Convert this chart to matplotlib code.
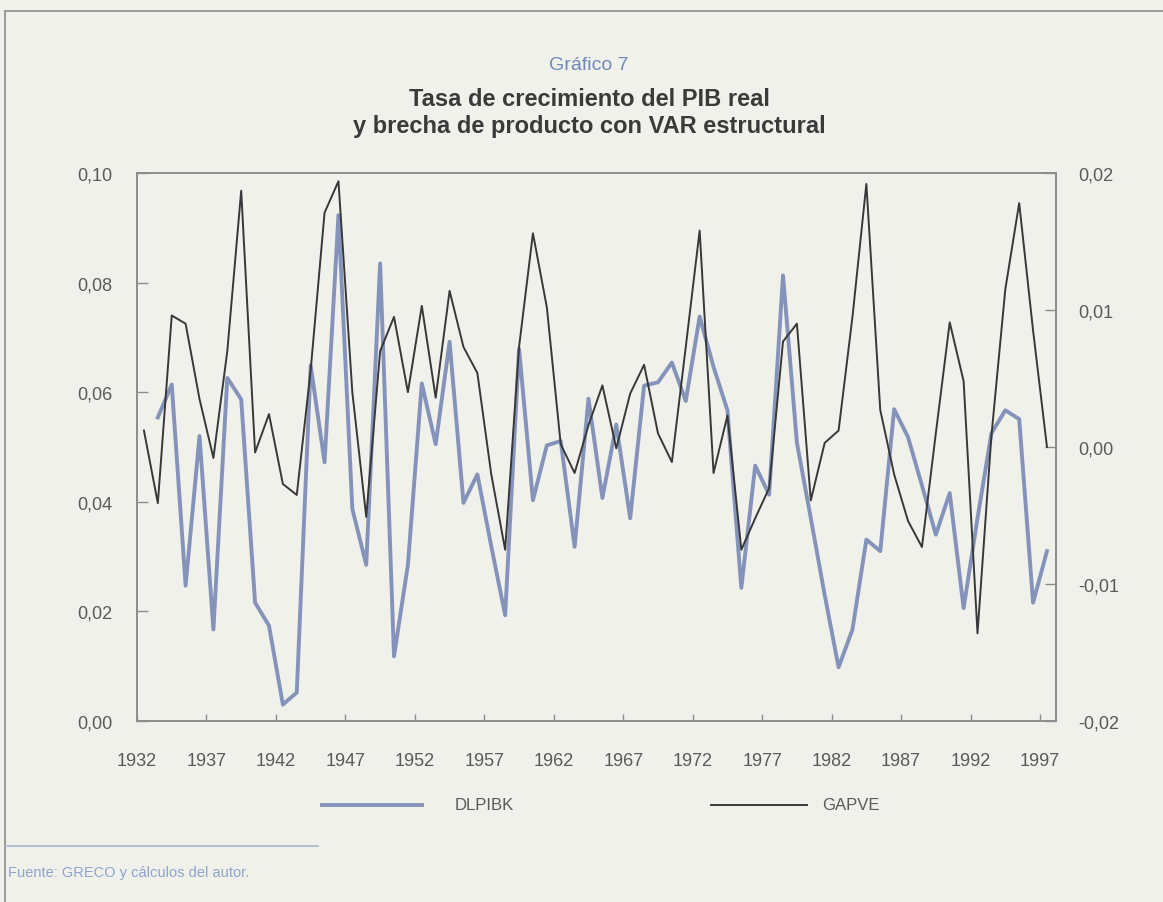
import matplotlib.pyplot as plt
from matplotlib.lines import Line2D

# GAPVE (right axis), 1932-1997
gap_years = list(range(1932, 1998))
gapve = [0.0012, -0.0041, 0.0096, 0.0090, 0.0035, -0.0008, 0.0070, 0.0187, -0.0004, 0.0024,
         -0.0027, -0.0035, 0.0056, 0.0171, 0.0194, 0.0040, -0.0051, 0.0070, 0.0095, 0.0040,
         0.0103, 0.0036, 0.0114, 0.0073, 0.0054, -0.0020, -0.0075, 0.0073, 0.0156, 0.0102,
         0.0002, -0.0019, 0.0016, 0.0045, -0.0001, 0.0039, 0.0060, 0.0010, -0.0011, 0.0073,
         0.0158, -0.0019, 0.0023, -0.0075, -0.0052, -0.0030, 0.0077, 0.0090, -0.0039, 0.0003,
         0.0012, 0.0095, 0.0192, 0.0027, -0.0020, -0.0054, -0.0073, 0.0010, 0.0091, 0.0048,
         -0.0136, 0.0008, 0.0115, 0.0178, 0.0085, 0.0000]

# DLPIBK (left axis), 1933-1997
dl_years = list(range(1933, 1998))
dlpibk = [0.0554, 0.0614, 0.0247, 0.0520, 0.0167, 0.0626, 0.0587, 0.0216, 0.0174, 0.0030,
          0.0052, 0.0649, 0.0472, 0.0923, 0.0387, 0.0285, 0.0835, 0.0118, 0.0285, 0.0616,
          0.0505, 0.0692, 0.0398, 0.0450, 0.0319, 0.0193, 0.0679, 0.0403, 0.0503, 0.0511,
          0.0318, 0.0588, 0.0407, 0.0541, 0.0370, 0.0612, 0.0618, 0.0654, 0.0584, 0.0738,
          0.0646, 0.0567, 0.0243, 0.0466, 0.0413, 0.0813, 0.0508, 0.0370, 0.0230, 0.0098,
          0.0167, 0.0331, 0.0310, 0.0569, 0.0518, 0.0430, 0.0340, 0.0416, 0.0206, 0.0370,
          0.0525, 0.0567, 0.0551, 0.0216, 0.0310]

left_ticks = [0.00, 0.02, 0.04, 0.06, 0.08, 0.10]
right_ticks = [-0.02, -0.01, 0.00, 0.01, 0.02]
year_ticks = list(range(1932, 1998, 5))

plt.rcParams['font.family'] = ['Liberation Sans Narrow', 'Liberation Sans', 'DejaVu Sans']

bg = '#f0f1eb'
axis_col = '#8c8c8c'
text_col = '#5a5a5a'
blue = '#8593ba'

fig = plt.figure(figsize=(11.63, 9.03), dpi=100, facecolor=bg)
ax = fig.add_axes([137/1163, 1 - 722/903, (1056 - 137)/1163, (722 - 174)/903])
ax.set_facecolor(bg)
ax2 = ax.twinx()

# annual values plotted at mid-year
ax.plot([y + 0.5 for y in dl_years], dlpibk, color=blue, lw=2.8)
ax2.plot([y + 0.5 for y in gap_years], gapve, color='#383838', lw=1.4)

ax.set_xlim(1932, 1998.15)
ax.set_ylim(0, 0.10)
ax2.set_ylim(-0.02, 0.02)

ax.set_xticks(year_ticks)
ax.set_xticklabels([str(y) for y in year_ticks])
ax.set_yticks(left_ticks)
ax.set_yticklabels([f'{v:.2f}'.replace('.', ',') for v in left_ticks])
ax2.set_yticks(right_ticks)
ax2.set_yticklabels([f'{v:.2f}'.replace('.', ',') for v in right_ticks])

for a in (ax, ax2):
    for s in a.spines.values():
        s.set_color(axis_col)
        s.set_linewidth(1.2)
ax.tick_params(axis='y', direction='in', length=8, width=1, color=axis_col,
               labelsize=13, labelcolor=text_col, pad=18)
ax.tick_params(axis='x', direction='in', length=5, width=1, color=axis_col,
               labelsize=13, labelcolor=text_col, pad=22)
ax2.tick_params(axis='y', direction='in', length=8, width=1, color=axis_col,
                labelsize=13, labelcolor=text_col, pad=16)

# titles
fig.text(0.5066, 1 - 66/903, 'Gráfico 7', ha='center', va='center',
         fontsize=14, color='#7089b8')
fig.text(0.5066, 1 - 100/903, 'Tasa de crecimiento del PIB real', ha='center', va='center',
         fontsize=17, fontweight='bold', color='#3a3a3a')
fig.text(0.5066, 1 - 126/903, 'y brecha de producto con VAR estructural', ha='center',
         va='center', fontsize=17, fontweight='bold', color='#3a3a3a')

# legend
ly = 1 - 806/903
fig.add_artist(Line2D([322/1163, 422/1163], [ly, ly], transform=fig.transFigure,
                      color=blue, lw=2.8))
fig.text(455/1163, ly, 'DLPIBK', ha='left', va='center', fontsize=12, color=text_col)
fig.add_artist(Line2D([711/1163, 807/1163], [ly, ly], transform=fig.transFigure,
                      color='#383838', lw=1.4))
fig.text(822/1163, ly, 'GAPVE', ha='left', va='center', fontsize=12, color=text_col)

# frame, separator and source
fig.add_artist(Line2D([5/1163, 1], [1 - 12/903, 1 - 12/903], transform=fig.transFigure,
                      color=axis_col, lw=1.2))
fig.add_artist(Line2D([5/1163, 5/1163], [0, 1 - 12/903], transform=fig.transFigure,
                      color=axis_col, lw=1.2))
fig.add_artist(Line2D([5/1163, 318/1163], [1 - 847/903, 1 - 847/903],
                      transform=fig.transFigure, color='#aab5ca', lw=1.2))
fig.text(8/1163, 1 - 873/903, 'Fuente: GRECO y cálculos del autor.', ha='left',
         va='center', fontsize=10.5, color='#8ea4cc')

fig.savefig('out.png', dpi=100, facecolor=bg)
